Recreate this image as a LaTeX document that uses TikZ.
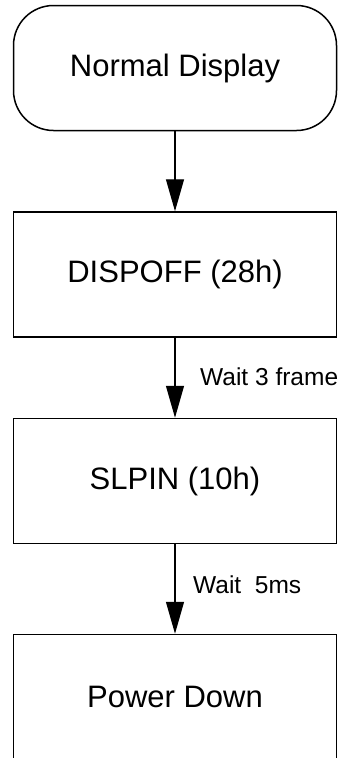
\documentclass[tikz,border=0pt]{standalone}
\usepackage{fontspec}
\setmainfont{Liberation Sans}
\usetikzlibrary{arrows.meta}
\tikzset{
  stepbox/.style={draw, line width=1.5pt, minimum width=323pt, minimum height=125pt, inner sep=0pt, font=\fontsize{31}{36}\selectfont, fill=white},
  roundbox/.style={stepbox, rounded corners=40pt},
  flow/.style={line width=1.2pt, -{Triangle[length=32pt,width=18pt]}},
  waitlabel/.style={anchor=west, inner sep=0pt, font=\fontsize{24.5}{28}\selectfont}
}
\begin{document}
\begin{tikzpicture}[x=1pt,y=-1pt]
\useasboundingbox (0,0) rectangle (344,758);
\clip (0,0) rectangle (344,758);
\node[roundbox] (nd) at (175,68) {Normal Display};
\node[stepbox] (doff) at (175,274.5) {DISPOFF (28h)};
\node[stepbox] (slp) at (175,481) {SLPIN (10h)};
\node[stepbox] (pd) at (175,697) {Power Down};
\draw[flow] (nd) -- (doff);
\draw[flow] (doff) -- (slp);
\draw[flow] (slp) -- (pd);
\node[waitlabel] (w1) at (200,377) {Wait 3 frame};
\node[waitlabel] (w2) at (193,585) {Wait\ \ 5ms};
\end{tikzpicture}
\end{document}
